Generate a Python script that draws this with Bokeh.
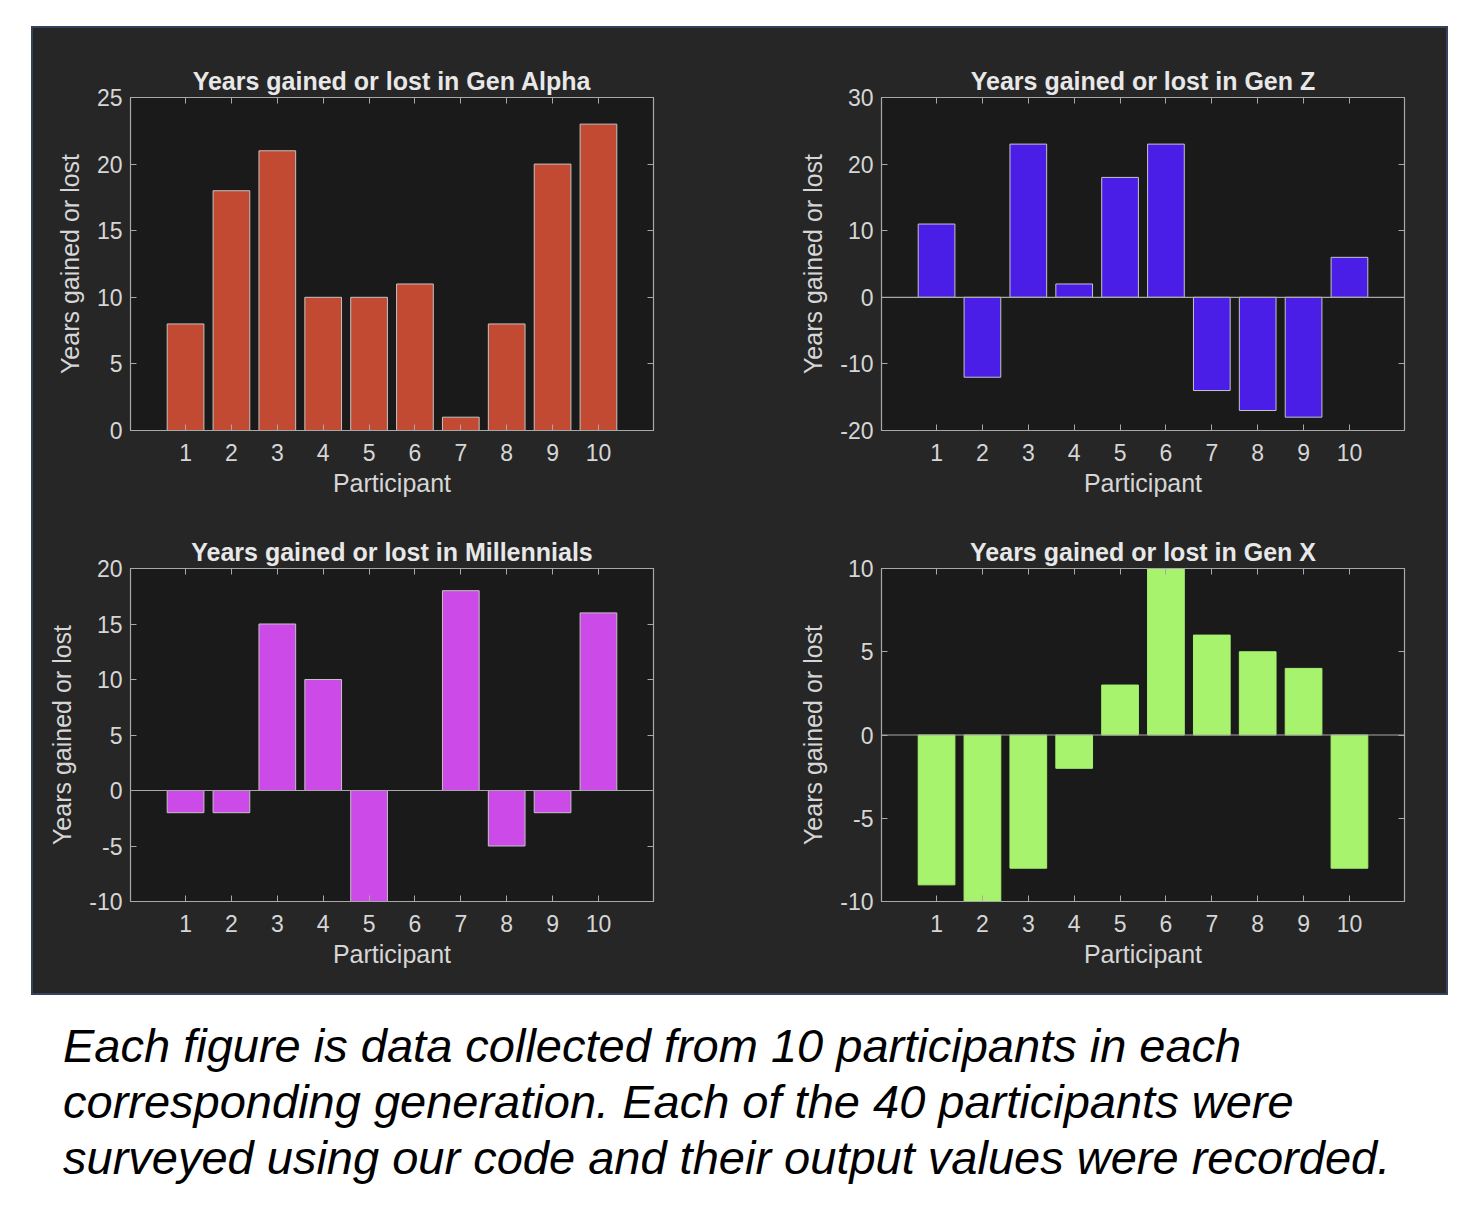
from bokeh.plotting import figure
from bokeh.models import Range1d, FixedTicker, LinearAxis, Span, Div, Spacer
from bokeh.layouts import column, row
from bokeh.embed import file_html
from bokeh.resources import INLINE

participants = [1, 2, 3, 4, 5, 6, 7, 8, 9, 10]
gen_alpha = [8, 18, 21, 10, 10, 11, 1, 8, 20, 23]
gen_z = [11, -12, 23, 2, 18, 23, -14, -17, -18, 6]
millennials = [-2, -2, 15, 10, -10, 0, 18, -5, -2, 16]
gen_x = [-9, -10, -8, -2, 3, 10, 6, 5, 4, -8]

titles = ["Years gained or lost in Gen Alpha", "Years gained or lost in Gen Z",
          "Years gained or lost in Millennials", "Years gained or lost in Gen X"]
y_limits = [(0, 25), (-20, 30), (-10, 20), (-10, 10)]
y_ticks = [[0, 5, 10, 15, 20, 25], [-20, -10, 0, 10, 20, 30],
           [-10, -5, 0, 5, 10, 15, 20], [-10, -5, 0, 5, 10]]
bar_colors = ["#C24A33", "#4A1EE6", "#CB4AE8", "#A8F36E"]
edge_colors = ["#c4c4c4", "#c4c4c4", "#c4c4c4", "#A8F36E"]
series = [gen_alpha, gen_z, millennials, gen_x]

x_label = "Participant"
y_label = "Years gained or lost"
caption_lines = ["Each figure is data collected from 10 participants in each",
                 "corresponding generation. Each of the 40 participants were",
                 "surveyed using our code and their output values were recorded."]

FONT = "Liberation Sans"
AX = "#a8a8a8"
TXT = "#d6d6d6"
PANEL = "#262626"
PLOTBG = "#1a1a1a"


def style_axis(ax):
    ax.axis_line_color = AX
    ax.axis_line_width = 1.2
    ax.major_tick_line_color = AX
    ax.major_tick_in = 6
    ax.major_tick_out = 0
    ax.minor_tick_line_color = None
    ax.major_label_text_font = FONT
    ax.major_label_text_color = TXT
    ax.major_label_text_font_size = "23px"
    ax.axis_label_text_font = FONT
    ax.axis_label_text_font_style = "normal"
    ax.axis_label_text_color = TXT
    ax.axis_label_text_font_size = "25px"


def make_panel(i, width, height, right, bottom):
    p = figure(width=width, height=height, output_backend="svg", toolbar_location=None,
               x_range=Range1d(-0.2, 11.2), y_range=Range1d(*y_limits[i]),
               x_axis_location=None, y_axis_location=None,
               min_border_left=97, min_border_top=69, min_border_right=right,
               min_border_bottom=bottom)
    p.background_fill_color = PLOTBG
    p.border_fill_color = PANEL
    p.outline_line_color = AX
    p.grid.visible = False

    p.title.text = titles[i]
    p.title.align = "center"
    p.title.text_font = FONT
    p.title.text_font_size = "25px"
    p.title.text_font_style = "bold"
    p.title.text_color = "#e8e8e8"
    p.title.standoff = 5

    zero = Span(location=0, dimension="width", line_color=AX, line_width=1.2)
    p.add_layout(zero)

    p.vbar(x=participants, top=series[i], bottom=0, width=0.8,
           fill_color=bar_colors[i], line_color=edge_colors[i], line_width=1)

    yover = {t: str(t) for t in y_ticks[i]}

    bottom_ax = LinearAxis(ticker=FixedTicker(ticks=participants), axis_label=x_label,
                           axis_label_standoff=5, major_label_standoff=13)
    left_ax = LinearAxis(ticker=FixedTicker(ticks=y_ticks[i]), axis_label=y_label,
                         axis_label_standoff=10, major_label_standoff=8,
                         major_label_overrides=yover)
    top_ax = LinearAxis(ticker=FixedTicker(ticks=participants),
                        major_label_overrides={t: "" for t in participants},
                        major_label_standoff=0)
    right_ax = LinearAxis(ticker=FixedTicker(ticks=y_ticks[i]),
                          major_label_overrides={t: "" for t in y_ticks[i]},
                          major_label_standoff=0)
    for ax, side in ((bottom_ax, "below"), (left_ax, "left"), (top_ax, "above"), (right_ax, "right")):
        style_axis(ax)
        p.add_layout(ax, side)
    return p


p1 = make_panel(0, 751, 471, 131, 69)
p2 = make_panel(1, 662, 471, 42, 69)
p3 = make_panel(2, 751, 494, 131, 92)
p4 = make_panel(3, 662, 494, 42, 92)

panel = column(row(p1, p2, spacing=0), row(p3, p4, spacing=0), spacing=0)
panel.styles = {"box-shadow": "0 0 0 2px #34425e", "background-color": PANEL}

cap_html = ('<div style="font-family: \'Liberation Sans\', Arial, sans-serif; font-style: italic; '
            'font-size: 47px; line-height: 56px; color: #000; white-space: nowrap; '
            'padding-left: 58px; padding-top: 20px;">' + "<br>".join(caption_lines) + '</div>')
caption = Div(text=cap_html, width=1440, height=200)

layout = column(Spacer(width=10, height=28), row(Spacer(width=33, height=10), panel), caption)

open("out.html", "w").write(file_html(layout, INLINE))
